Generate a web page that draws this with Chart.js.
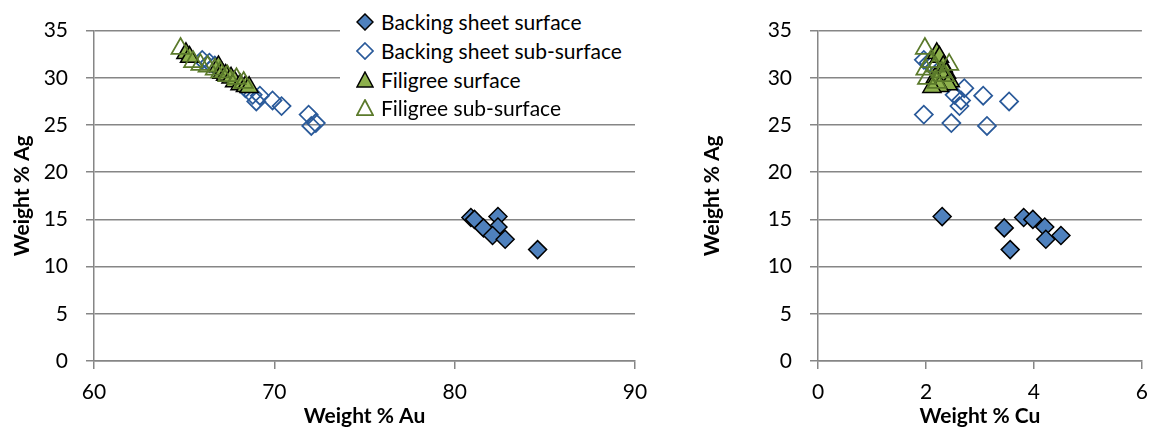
<!DOCTYPE html>
<html>
<head>
<meta charset="utf-8">
<script src="https://cdn.jsdelivr.net/npm/chart.js@4.4.1/dist/chart.umd.min.js"></script>
<style>
html,body{margin:0;padding:0;background:#fff;}
body{width:1159px;height:432px;position:relative;overflow:hidden;font-family:Lato,"Liberation Sans",sans-serif;}
#w1{position:absolute;left:0;top:0;width:660px;height:432px;}
#w2{position:absolute;left:690px;top:0;width:469px;height:432px;}
#legend{position:absolute;left:340px;top:0;width:330px;height:118px;background:#fff;}
.it{position:absolute;left:0;height:28px;line-height:28px;font-size:21px;color:#000;white-space:nowrap;}
.it svg{position:absolute;left:16px;top:5px;}
.it span{position:absolute;left:41px;top:0;}
</style>
</head>
<body>
<div id="w1"><canvas id="c1" width="660" height="432"></canvas></div>
<div id="w2"><canvas id="c2" width="469" height="432"></canvas></div>
<div id="legend"></div>
<script>
// ---- data ----
const seriesLabels = ['Backing sheet surface', 'Backing sheet sub-surface', 'Filigree surface', 'Filigree sub-surface'];
const auTicks = [60, 70, 80, 90];
const cuTicks = [0, 2, 4, 6];
const agTicks = [0, 5, 10, 15, 20, 25, 30, 35];

const bsSurfAu = [82.4, 80.9, 81.1, 82.4, 81.6, 82.1, 82.8, 84.6];
const bsSurfCu = [2.30, 3.81, 3.98, 4.20, 3.45, 4.50, 4.22, 3.56];
const bsSurfAg = [15.3, 15.2, 15.0, 14.2, 14.1, 13.3, 12.9, 11.8];

const bsSubAu = [66.0, 66.4, 66.7, 68.4, 68.8, 69.2, 69.0, 69.9, 70.4, 71.9, 72.3, 72.05];
const bsSubCu = [1.96, 2.05, 2.10, 2.71, 2.53, 3.06, 3.54, 2.65, 2.62, 1.96, 2.47, 3.13];
const bsSubAg = [31.9, 31.6, 31.3, 28.9, 28.2, 28.1, 27.5, 27.6, 27.0, 26.1, 25.2, 24.9];

const filSurfAu = [65.1, 65.3, 66.9, 67.1, 67.3, 67.6, 67.8, 68.1, 68.4, 68.6];
const filSurfCu = [2.20, 2.25, 2.32, 2.38, 2.30, 2.17, 2.45, 2.41, 2.25, 2.11];
const filSurfAg = [32.6, 32.2, 31.2, 30.5, 30.3, 30.0, 29.6, 29.3, 29.1, 29.0];

const filSubAu = [64.8, 65.5, 65.9, 66.3, 66.7, 67.0, 67.4, 67.9, 68.3];
const filSubCu = [1.98, 2.08, 2.43, 2.17, 1.99, 2.29, 2.35, 2.02, 2.20];
const filSubAg = [33.1, 31.7, 31.4, 31.2, 30.9, 30.6, 30.2, 29.9, 29.5];

// ---- styles ----
const FONT = 'Lato, "Liberation Sans", sans-serif';
const AXIS = '#868686';
const styles = [
  {pointStyle: 'rectRot', radius: 9, bg: '#4F81BD', border: '#000000', bw: 1.5, order: 4},
  {pointStyle: 'rectRot', radius: 9, bg: 'rgba(0,0,0,0)', border: '#2A5A9A', bw: 1.75, order: 3},
  {pointStyle: 'triangle', radius: 10.5, bg: '#8DB04C', border: '#000000', bw: 1.5, order: 2},
  {pointStyle: 'triangle', radius: 10.5, bg: 'rgba(0,0,0,0)', border: '#5B7A2B', bw: 1.75, order: 1}
];

function pts(xs, ys) { return xs.map((x, i) => ({x: x, y: ys[i]})); }

function datasets(xsList, ysList) {
  return xsList.map((xs, i) => ({
    label: seriesLabels[i],
    data: pts(xs, ysList[i]),
    pointStyle: styles[i].pointStyle,
    pointRadius: styles[i].radius,
    pointHoverRadius: styles[i].radius,
    backgroundColor: styles[i].bg,
    borderColor: styles[i].border,
    pointBorderWidth: styles[i].bw,
    borderWidth: styles[i].bw,
    showLine: false,
    order: styles[i].order
  }));
}

function opts(xTicks, xTitle, yWidth, yTitlePad, rightPad) {
  return {
    responsive: false, animation: false, events: [],
    layout: {padding: {top: 28, right: rightPad, bottom: 0, left: 0}},
    plugins: {legend: {display: false}, tooltip: {enabled: false}},
    scales: {
      x: {
        type: 'linear', min: xTicks[0], max: xTicks[xTicks.length - 1],
        afterBuildTicks: s => { s.ticks = xTicks.map(v => ({value: v})); },
        ticks: {color: '#000', font: {family: FONT, size: 21}, padding: 11, maxRotation: 0},
        grid: {drawOnChartArea: false, drawTicks: true, tickLength: 8, color: AXIS, lineWidth: 1.5},
        border: {color: AXIS, width: 1.5},
        title: {display: true, text: xTitle, color: '#000', font: {family: FONT, size: 21, weight: 'bold'}, padding: {top: 0, bottom: 3}},
        afterFit: s => { s.height = 71; }
      },
      y: {
        type: 'linear', min: agTicks[0], max: agTicks[agTicks.length - 1],
        afterBuildTicks: s => { s.ticks = agTicks.map(v => ({value: v})); },
        ticks: {color: '#000', font: {family: FONT, size: 21}, padding: 18},
        grid: {drawTicks: true, tickLength: 8, color: AXIS, lineWidth: 1.5},
        border: {color: AXIS, width: 1.5},
        title: {display: true, text: 'Weight % Ag', color: '#000', font: {family: FONT, size: 21, weight: 'bold'}, padding: {top: 10, bottom: 0}},
        afterFit: s => { s.width = yWidth; }
      }
    }
  };
}

new Chart(document.getElementById('c1'), {
  type: 'scatter',
  data: {datasets: datasets([bsSurfAu, bsSubAu, filSurfAu, filSubAu], [bsSurfAg, bsSubAg, filSurfAg, filSubAg])},
  options: opts(auTicks, 'Weight % Au', 94, 10, 25)
});

new Chart(document.getElementById('c2'), {
  type: 'scatter',
  data: {datasets: datasets([bsSurfCu, bsSubCu, filSurfCu, filSubCu], [bsSurfAg, bsSubAg, filSurfAg, filSubAg])},
  options: opts(cuTicks, 'Weight % Cu', 128, 40, 7)
});

// ---- legend (HTML, over the left plot) ----
const legend = document.getElementById('legend');
const rowCenters = [22, 51, 80, 108];
seriesLabels.forEach((lab, i) => {
  const st = styles[i];
  const shape = st.pointStyle === 'rectRot'
    ? '<polygon points="9,1 17,9 9,17 1,9"/>'
    : '<polygon points="9,1 17,16 1,16"/>';
  const fill = st.bg === 'rgba(0,0,0,0)' ? 'none' : st.bg;
  const d = document.createElement('div');
  d.className = 'it';
  d.style.top = (rowCenters[i] - 14) + 'px';
  d.innerHTML = '<svg width="18" height="18" viewBox="0 0 18 18"><g fill="' + fill + '" stroke="' + st.border + '" stroke-width="' + st.bw + '">' + shape + '</g></svg><span>' + lab + '</span>';
  legend.appendChild(d);
});
</script>
</body>
</html>
